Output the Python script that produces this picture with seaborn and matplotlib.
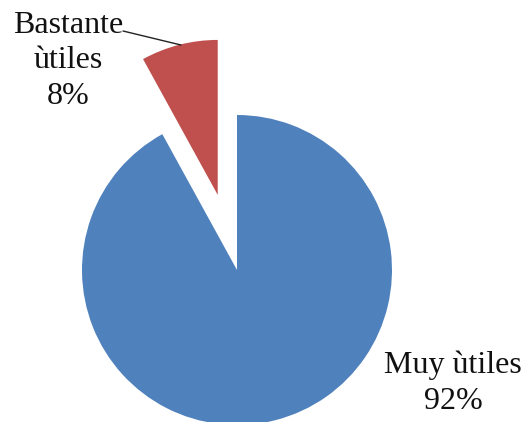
import matplotlib
matplotlib.use("Agg")
import matplotlib.pyplot as plt
import seaborn as sns

# datos
categorias = ["Muy ùtiles", "Bastante ùtiles"]
porcentajes = [92, 8]
colores = ["#4F81BD", "#C0504D"]

sns.set_theme(style="white")
plt.rcParams["font.family"] = ["Liberation Serif", "DejaVu Serif"]

fig = plt.figure(figsize=(5.28, 4.22), dpi=100)
ax = fig.add_axes([0, 0, 1, 1])

radio = 155
# el desplazamiento del explode va en unidades de datos
ax.pie(porcentajes, colors=colores, explode=[0, 0.5 * radio], startangle=90,
       counterclock=False, center=(237, 152), radius=radio,
       wedgeprops=dict(linewidth=0))

ax.set_xlim(0, 528)
ax.set_ylim(0, 422)
ax.set_aspect("equal")
ax.axis("off")

# etiquetas
ax.text(68, 361, "Bastante\nùtiles\n8%", ha="center", va="center",
        fontsize=23, linespacing=1.3, color="#111111")
ax.text(453, 39, "Muy ùtiles\n92%", ha="center", va="center",
        fontsize=23, linespacing=1.3, color="#111111")
ax.plot([123, 181], [391, 377], color="#222222", linewidth=1)

fig.savefig("out.png", dpi=100)
